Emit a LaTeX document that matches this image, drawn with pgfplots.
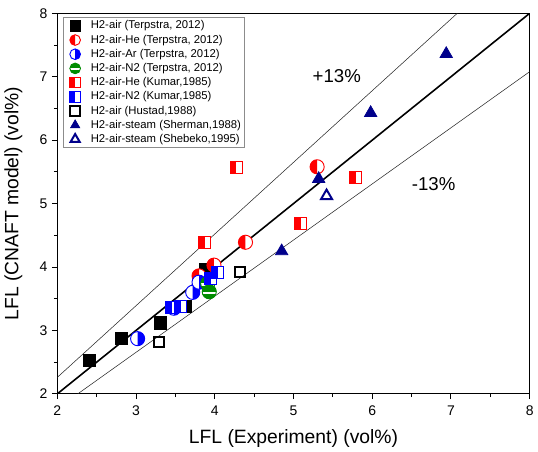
\documentclass[border=0pt]{standalone}
\usepackage{pgfplots}
\pgfplotsset{compat=1.18}
\usepackage{fontspec}
\setmainfont{Liberation Sans}

\definecolor{navy}{RGB}{0,0,139}
\definecolor{ogreen}{RGB}{0,140,0}

% half filled markers (white background, coloured half)
\pgfdeclareplotmark{cleft}{%
  \begin{pgfscope}\pgfsetfillcolor{white}%
  \pgfpathcircle{\pgfpointorigin}{\pgfplotmarksize}\pgfusepathqfill\end{pgfscope}%
  \pgfpathmoveto{\pgfqpoint{0pt}{\pgfplotmarksize}}%
  \pgfpatharc{90}{270}{\pgfplotmarksize}\pgfpathclose\pgfusepathqfill
  \pgfpathcircle{\pgfpointorigin}{\pgfplotmarksize}\pgfusepathqstroke}
\pgfdeclareplotmark{cright}{%
  \begin{pgfscope}\pgfsetfillcolor{white}%
  \pgfpathcircle{\pgfpointorigin}{\pgfplotmarksize}\pgfusepathqfill\end{pgfscope}%
  \pgfpathmoveto{\pgfqpoint{0pt}{\pgfplotmarksize}}%
  \pgfpatharc{90}{-90}{\pgfplotmarksize}\pgfpathclose\pgfusepathqfill
  \pgfpathcircle{\pgfpointorigin}{\pgfplotmarksize}\pgfusepathqstroke}
\pgfdeclareplotmark{cband}{%
  \pgfpathcircle{\pgfpointorigin}{\pgfplotmarksize}\pgfusepathqfill
  \begin{pgfscope}\pgfpathcircle{\pgfpointorigin}{\pgfplotmarksize}\pgfusepath{clip}%
  \pgfsetfillcolor{white}%
  \pgfpathrectanglecorners{\pgfqpoint{-\pgfplotmarksize}{-0.32\pgfplotmarksize}}{\pgfqpoint{\pgfplotmarksize}{0.02\pgfplotmarksize}}%
  \pgfusepathqfill\end{pgfscope}%
  \pgfpathcircle{\pgfpointorigin}{\pgfplotmarksize}\pgfusepathqstroke}
\pgfdeclareplotmark{sqleft}{%
  \begin{pgfscope}\pgfsetfillcolor{white}%
  \pgfpathrectanglecorners{\pgfqpoint{-\pgfplotmarksize}{-\pgfplotmarksize}}{\pgfqpoint{\pgfplotmarksize}{\pgfplotmarksize}}\pgfusepathqfill\end{pgfscope}%
  \pgfpathrectanglecorners{\pgfqpoint{-\pgfplotmarksize}{-\pgfplotmarksize}}{\pgfqpoint{0.05\pgfplotmarksize}{\pgfplotmarksize}}\pgfusepathqfill
  \pgfpathrectanglecorners{\pgfqpoint{-\pgfplotmarksize}{-\pgfplotmarksize}}{\pgfqpoint{\pgfplotmarksize}{\pgfplotmarksize}}\pgfusepathqstroke}

\begin{document}
\begin{tikzpicture}
\begin{axis}[
  scale only axis, width=355pt, height=286pt,
  xmin=2, xmax=8, ymin=2, ymax=8,
  xtick={2,3,...,8}, ytick={2,3,...,8},
  minor tick num=1,
  tick align=outside, tick pos=left,
  major tick length=4pt, minor tick length=2.5pt,
  axis line style={line width=0.9pt},
  every tick/.style={black, line width=0.7pt},
  ticklabel style={font=\fontsize{10.5}{12}\selectfont},
  xticklabel style={yshift=-1.5pt},
  /pgf/number format/assume math mode=true,
  xlabel={LFL (Experiment) (vol\%)},
  ylabel={LFL (CNAFT model) (vol\%)},
  ylabel shift=6pt, xlabel shift=3.5pt,
  label style={font=\fontsize{14.5}{17}\selectfont},
  legend cell align=left,
  legend style={at={(0.011,0.99)}, anchor=north west, draw=black!45, line width=0.5pt,
    font=\fontsize{8.5}{10}\selectfont, inner sep=1pt,
    nodes={inner sep=1.5pt}},
  legend image code/.code={%
    \path (0pt,0pt) (17pt,0pt);
    \draw[#1] plot coordinates {(7.5pt,0pt)};},
  legend image post style={mark size=4pt},
]
% reference lines
\addplot[black, line width=1.2pt, forget plot] coordinates {(2,2)(8,8)};
\addplot[black!85, line width=0.4pt, forget plot] coordinates {(2,2.26)(7.08,8)};
\addplot[black!85, line width=0.4pt, forget plot] coordinates {(2.26,2)(8,7.08)};

\addplot[only marks, mark=square*, mark size=4.6pt, black, line width=0.5pt]
  coordinates {(2.41,2.53)(2.81,2.88)(3.31,3.12)(3.63,3.38)(3.88,3.96)};
\addlegendentry{H2-air (Terpstra, 2012)}
\addplot[only marks, mark=cleft, mark size=5.3pt, draw=red, fill=red, line width=0.7pt]
  coordinates {(3.80,3.86)(3.99,4.03)(4.39,4.39)(5.30,5.58)};
\addlegendentry{H2-air-He (Terpstra, 2012)}
\addplot[only marks, mark=cright, mark size=5.3pt, draw=blue, fill=blue, line width=0.7pt]
  coordinates {(3.02,2.87)(3.48,3.35)(3.72,3.60)(3.80,3.76)};
\addlegendentry{H2-air-Ar (Terpstra, 2012)}
\addplot[only marks, mark=cband, mark size=5.3pt, draw=ogreen, fill=ogreen, line width=0.7pt]
  coordinates {(3.91,3.74)(3.93,3.61)};
\addlegendentry{H2-air-N2 (Terpstra, 2012)}
\addplot[only marks, mark=sqleft, mark size=4.5pt, draw=red, fill=red, line width=0.7pt]
  coordinates {(4.27,5.57)(5.79,5.41)(5.09,4.69)(3.87,4.38)};
\addlegendentry{H2-air-He (Kumar,1985)}
\addplot[only marks, mark=sqleft, mark size=4.5pt, draw=blue, fill=blue, line width=0.7pt]
  coordinates {(3.45,3.36)(3.57,3.38)(3.95,3.82)(4.04,3.92)};
\addlegendentry{H2-air-N2 (Kumar,1985)}
\addplot[only marks, mark=square, mark size=3.6pt, black, line width=1.5pt, fill=white]
  coordinates {(3.29,2.82)(4.32,3.92)};
\addlegendentry{H2-air (Hustad,1988)}
\addplot[only marks, mark=triangle*, mark size=5.4pt, navy, line width=0.5pt]
  coordinates {(6.94,7.36)(5.98,6.43)(5.32,5.39)(4.85,4.25)};
\addlegendentry{H2-air-steam (Sherman,1988)}
\addplot[only marks, mark=triangle, mark size=4.8pt, navy, line width=1.5pt, fill=white]
  coordinates {(5.42,5.12)};
\addlegendentry{H2-air-steam (Shebeko,1995)}

\node[font=\fontsize{14}{16}\selectfont] at (axis cs:5.55,7.01) {+13\%};
\node[font=\fontsize{14}{16}\selectfont] at (axis cs:6.78,5.31) {-13\%};
\end{axis}
% a little blank room above the axis, as in the reference
\path (current axis.north) ++(0,10pt);
\end{tikzpicture}
\end{document}
